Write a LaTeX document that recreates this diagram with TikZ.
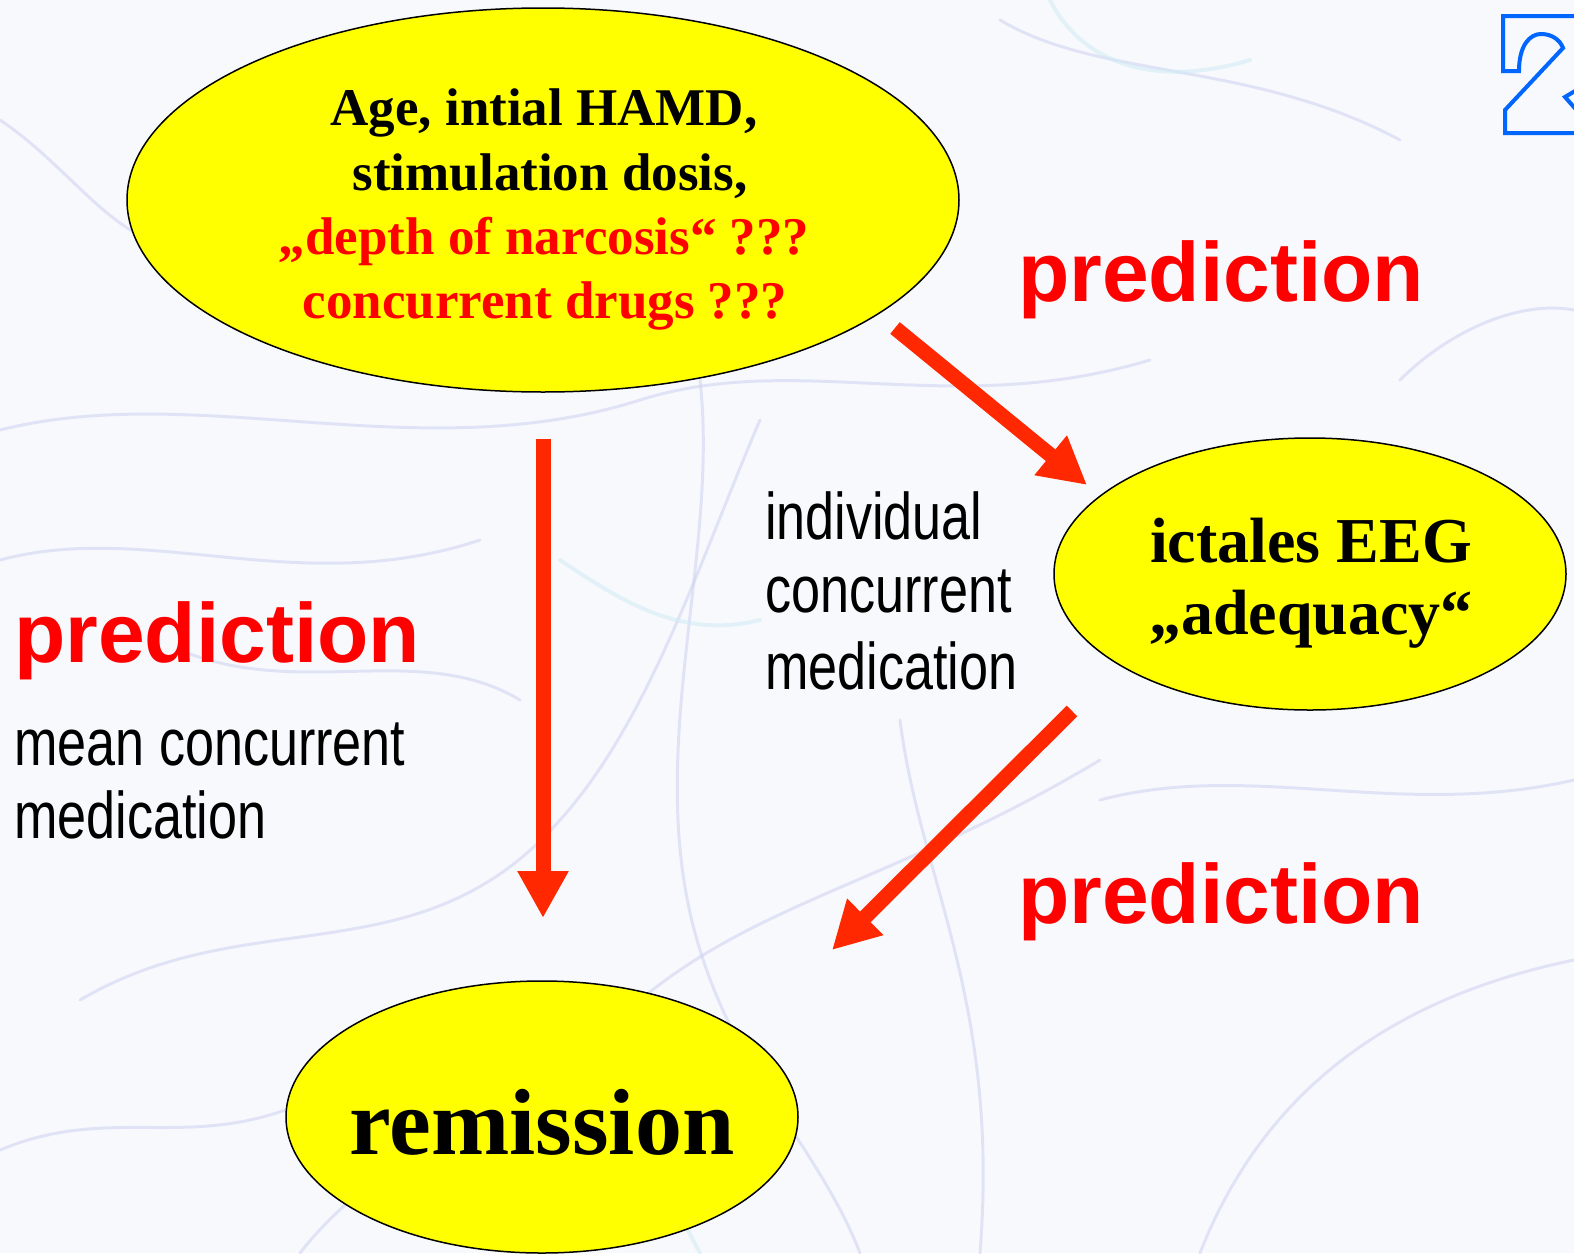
\documentclass[tikz,border=0pt]{standalone}
\usepackage{fontspec}
\setmainfont{Liberation Serif}
\newfontfamily\sansfam{Liberation Sans}
\newfontfamily\narrowfam[FakeStretch=0.79]{Liberation Sans}
\usetikzlibrary{shapes.geometric,arrows.meta}
\definecolor{ellyellow}{RGB}{255,255,0}
\definecolor{arrowred}{RGB}{255,40,0}
\definecolor{txtred}{RGB}{255,0,0}
\definecolor{logoblue}{RGB}{0,102,255}
\definecolor{bgtint}{RGB}{248,249,253}
\definecolor{vein}{RGB}{205,210,240}
\definecolor{veincyan}{RGB}{205,235,245}
\tikzset{
  bubble/.style={ellipse, draw=black, line width=1.5pt, fill=ellyellow, inner sep=0pt},
  redarrow/.style={draw=arrowred, line width=15pt, -{Triangle[length=47pt,width=48pt]}},
  predlabel/.style={anchor=base west, inner sep=0pt, text=txtred, font=\fontsize{84}{84}\sansfam\bfseries},
  toptext/.style={anchor=base, inner sep=0pt, font=\fontsize{53}{64}\selectfont\bfseries},
  eegtext/.style={anchor=base, inner sep=0pt, font=\fontsize{64}{75}\selectfont\bfseries},
  narrowtext/.style={anchor=base west, inner sep=0pt, font=\fontsize{66}{75}\narrowfam},
  veinline/.style={draw=vein, line width=3pt, opacity=0.55, line cap=round},
  veincline/.style={draw=veincyan, line width=4pt, opacity=0.5, line cap=round}
}
\begin{document}
\begin{tikzpicture}[x=1pt,y=-1pt]
\useasboundingbox (0,0) rectangle (1574,1253);
\clip (0,0) rectangle (1574,1253);
\fill[bgtint] (0,0) rectangle (1574,1253);
% faint background veins
\draw[veinline] (0,430) .. controls (200,380) and (420,470) .. (640,400) .. controls (800,350) and (950,420) .. (1150,360);
\draw[veinline] (80,1000) .. controls (250,900) and (420,980) .. (560,820) .. controls (650,720) and (700,560) .. (760,420);
\draw[veinline] (300,1253) .. controls (380,1150) and (520,1100) .. (640,1000) .. controls (760,900) and (900,880) .. (1100,760);
\draw[veinline] (0,560) .. controls (150,520) and (300,600) .. (480,540);
\draw[veinline] (700,380) .. controls (720,560) and (640,760) .. (700,950) .. controls (740,1080) and (820,1150) .. (860,1253);
\draw[veinline] (900,720) .. controls (920,880) and (1000,1000) .. (980,1253);
\draw[veinline] (1100,800) .. controls (1250,760) and (1400,820) .. (1574,780);
\draw[veinline] (1200,1253) .. controls (1260,1100) and (1380,1000) .. (1574,960);
\draw[veinline] (0,1150) .. controls (120,1100) and (200,1160) .. (330,1090);
\draw[veinline] (1000,20) .. controls (1100,80) and (1250,60) .. (1400,140);
\draw[veinline] (0,120) .. controls (60,160) and (100,220) .. (150,240);
\draw[veinline] (1400,380) .. controls (1450,330) and (1520,300) .. (1574,310);
\draw[veinline] (180,650) .. controls (300,700) and (420,640) .. (520,700);
\draw[veincline] (560,560) .. controls (620,600) and (680,640) .. (760,620);
\draw[veincline] (1050,0) .. controls (1080,60) and (1150,90) .. (1250,60);
\draw[veincline] (600,1000) .. controls (630,1100) and (660,1180) .. (700,1253);

% ellipses
\node[bubble, minimum width=832pt, minimum height=384pt] (factors) at (543,200) {};
\node[bubble, minimum width=512pt, minimum height=272pt] (eeg) at (1310,574) {};
\node[bubble, minimum width=512pt, minimum height=272pt] (remission) at (542,1117) {};

% top ellipse text
\node[toptext] (f1) at (544,125) {Age, intial HAMD,};
\node[toptext] (f2) at (550,190) {stimulation dosis,};
\node[toptext, text=txtred] (f3) at (544,254) {„depth of narcosis“ ???};
\node[toptext, text=txtred] (f4) at (545,318) {concurrent drugs ???};

% EEG text
\node[eegtext] (e1) at (1311,562) {ictales EEG};
\node[eegtext] (e2) at (1311,634) {„adequacy“};

% remission text
\node[anchor=base, inner sep=0pt, font=\fontsize{94}{94}\selectfont\bfseries] (r1) at (542,1154) {remission};

% arrows
\coordinate (vs) at (543,439);
\coordinate (vt) at (543,918);
\coordinate (d1s) at (895,328);
\coordinate (d1t) at (1087,485);
\coordinate (d2s) at (1072,711);
\coordinate (d2t) at (832,950);
\draw[redarrow] (vs) -- (vt);
\draw[redarrow] (d1s) -- (d1t);
\draw[redarrow] (d2s) -- (d2t);

% labels
\node[predlabel] (p1) at (1018,301) {prediction};
\node[predlabel] (p2) at (14,662) {prediction};
\node[predlabel] (p3) at (1018,923) {prediction};

\node[narrowtext] (i1) at (765,539) {individual};
\node[narrowtext] (i2) at (765,612) {concurrent};
\node[narrowtext] (i3) at (765,689) {medication};

\node[narrowtext] (m1) at (14,765) {mean concurrent};
\node[narrowtext] (m2) at (14,838) {medication};

% logo fragment
\draw[logoblue, line width=4pt, line join=miter]
  (1580,16) -- (1503,16) -- (1503,71) -- (1519,71)
  .. controls (1519,45) and (1530,34) .. (1541,34)
  .. controls (1552,34) and (1560,40) .. (1563,48)
  -- (1505,110) -- (1505,133) -- (1580,133);
\draw[logoblue, line width=4pt] (1580,88) -- (1565,97) -- (1580,114);
\end{tikzpicture}
\end{document}
